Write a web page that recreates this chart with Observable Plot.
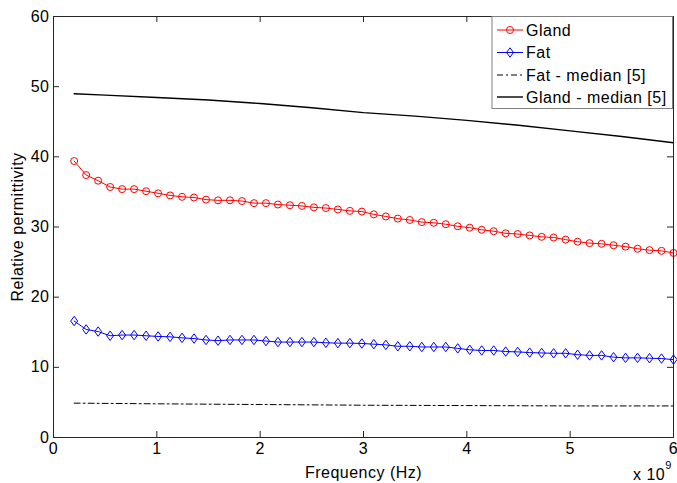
<!DOCTYPE html>
<html><head><meta charset="utf-8">
<script src="https://cdn.jsdelivr.net/npm/d3@7"></script>
<script src="https://cdn.jsdelivr.net/npm/@observablehq/plot@0.6"></script>
<style>body{margin:0;background:#fff} svg{display:block} svg text{letter-spacing:0.5px}</style>
</head><body><div id="chart"></div>
<script>
// Frequency in GHz (axis shows x 10^9 Hz)
const freqGHz = [0.2, 0.316, 0.432, 0.548, 0.664, 0.78, 0.896, 1.012, 1.128, 1.244, 1.36, 1.476, 1.592, 1.708, 1.824, 1.94, 2.056, 2.172, 2.288, 2.404, 2.52, 2.636, 2.752, 2.868, 2.984, 3.1, 3.216, 3.332, 3.448, 3.564, 3.68, 3.796, 3.912, 4.028, 4.144, 4.26, 4.376, 4.492, 4.608, 4.724, 4.84, 4.956, 5.072, 5.188, 5.304, 5.42, 5.536, 5.652, 5.768, 5.884, 6.0];
const glandEps = [39.4, 37.4, 36.6, 35.7, 35.4, 35.4, 35.1, 34.8, 34.5, 34.3, 34.2, 33.9, 33.8, 33.8, 33.7, 33.4, 33.4, 33.2, 33.1, 33.0, 32.8, 32.7, 32.5, 32.3, 32.2, 31.8, 31.5, 31.2, 31.0, 30.7, 30.6, 30.4, 30.1, 29.9, 29.6, 29.4, 29.1, 29.0, 28.8, 28.6, 28.5, 28.2, 27.9, 27.7, 27.6, 27.4, 27.2, 26.9, 26.7, 26.6, 26.3];
const fatEps = [16.6, 15.4, 15.1, 14.5, 14.6, 14.6, 14.5, 14.4, 14.35, 14.2, 14.1, 13.9, 13.8, 13.9, 13.9, 13.9, 13.75, 13.6, 13.6, 13.6, 13.6, 13.5, 13.45, 13.45, 13.4, 13.3, 13.2, 13.0, 13.0, 12.9, 12.9, 12.9, 12.7, 12.5, 12.4, 12.4, 12.25, 12.2, 12.1, 12.05, 12.0, 12.0, 11.8, 11.7, 11.7, 11.45, 11.35, 11.35, 11.3, 11.25, 11.1];
const glandMedFreq = [0.2, 0.5, 1, 1.5, 2, 2.5, 3, 3.5, 4, 4.5, 5, 5.5, 6];
const glandMedEps = [49.0, 48.8, 48.45, 48.1, 47.6, 47.0, 46.3, 45.8, 45.2, 44.5, 43.7, 42.9, 42.0];
const fatMedFreq = [0.2, 1, 2, 3, 4, 5, 6];
const fatMedEps = [4.9, 4.8, 4.7, 4.6, 4.55, 4.5, 4.5];
const xTicks = [0, 1, 2, 3, 4, 5, 6];
const yTicks = [0, 10, 20, 30, 40, 50, 60];
const seriesNames = ["Gland", "Fat", "Fat - median [5]", "Gland - median [5]"];
const xLabel = "Frequency (Hz)";
const yLabel = "Relative permittivity";

const gland = freqGHz.map((f, i) => ({f, v: glandEps[i]}));
const fat = freqGHz.map((f, i) => ({f, v: fatEps[i]}));
const glandMed = glandMedFreq.map((f, i) => ({f, v: glandMedEps[i]}));
const fatMed = fatMedFreq.map((f, i) => ({f, v: fatMedEps[i]}));

const W = 677, H = 483, mL = 53, mR = 4, mT = 16, mB = 46;
const innerW = W - mL - mR, innerH = H - mT - mB;
const font = "'Liberation Sans', Arial, Helvetica, sans-serif";
const axisColor = "#262626";
const diamond = {draw(ctx, size) {
  const r = Math.sqrt(size / Math.PI); const w = r * 0.85, h = r * 1.15;
  ctx.moveTo(0, -h); ctx.lineTo(w, 0); ctx.lineTo(0, h); ctx.lineTo(-w, 0); ctx.closePath();
}};

const chart = Plot.plot({
  width: W, height: H, marginLeft: mL, marginRight: mR, marginTop: mT, marginBottom: mB,
  style: {fontFamily: font, fontSize: "16px", background: "white", color: "black", overflow: "visible"},
  x: {domain: [0, 6]}, y: {domain: [0, 60]},
  marks: [
    Plot.line(fatMed, {x: "f", y: "v", stroke: "black", strokeWidth: 1, strokeDasharray: "6,3,2,3"}),
    Plot.line(glandMed, {x: "f", y: "v", stroke: "black", strokeWidth: 1.4}),
    Plot.line(gland, {x: "f", y: "v", stroke: "#ff0000", strokeWidth: 1}),
    Plot.dot(gland, {x: "f", y: "v", r: 3.5, stroke: "#ff0000", fill: "none", strokeWidth: 1}),
    Plot.line(fat, {x: "f", y: "v", stroke: "#0000ff", strokeWidth: 1}),
    Plot.dot(fat, {x: "f", y: "v", r: 4.1, symbol: diamond, stroke: "#0000ff", fill: "none", strokeWidth: 1}),
    Plot.frame({stroke: axisColor}),
    Plot.tickX(xTicks, {x: d => d, insetTop: innerH - 6, stroke: axisColor}),
    Plot.tickX(xTicks, {x: d => d, insetBottom: innerH - 6, stroke: axisColor}),
    Plot.tickY(yTicks, {y: d => d, insetRight: innerW - 6, stroke: axisColor}),
    Plot.tickY(yTicks, {y: d => d, insetLeft: innerW - 6, stroke: axisColor}),
    Plot.axisX({ticks: xTicks, tickSize: 0, tickPadding: 5, label: null, fontSize: 16, tickFormat: d => String(d)}),
    Plot.axisY({ticks: yTicks, tickSize: 0, tickPadding: 4, label: null, fontSize: 16, tickFormat: d => String(d)}),
    Plot.text([xLabel], {frameAnchor: "bottom", dy: 40, lineAnchor: "bottom", textAnchor: "middle", text: d => d, fontSize: 16}),
    Plot.text([yLabel], {frameAnchor: "left", dx: -36, rotate: -90, lineAnchor: "middle", textAnchor: "middle", text: d => d, fontSize: 16})
  ]
});
document.getElementById("chart").appendChild(chart);

const svg = d3.select(chart);
// exponent label
const ex = svg.append("text").attr("x", 633).attr("y", 480).attr("text-anchor", "start")
  .attr("font-family", font).attr("font-size", 16).attr("fill", "black");
ex.append("tspan").text("x 10");
ex.append("tspan").attr("dy", -11).attr("font-size", 11).text("9");

// legend
const lg = svg.append("g").attr("font-family", font).attr("font-size", 16).attr("text-anchor", "start");
lg.append("rect").attr("x", 492).attr("y", 16.5).attr("width", 180.5).attr("height", 92)
  .attr("fill", "white").attr("stroke", "#808080").attr("stroke-width", 1);
const rows = [
  {name: seriesNames[0], y: 30, color: "#ff0000", marker: "circle", dash: null, w: 1},
  {name: seriesNames[1], y: 52.5, color: "#0000ff", marker: "diamond", dash: null, w: 1},
  {name: seriesNames[2], y: 75, color: "black", marker: null, dash: "6,3,2,3", w: 1},
  {name: seriesNames[3], y: 97, color: "black", marker: null, dash: null, w: 1.4}
];
rows.forEach(r => {
  const l = lg.append("line").attr("x1", 497).attr("x2", 523).attr("y1", r.y).attr("y2", r.y)
    .attr("stroke", r.color).attr("stroke-width", r.w);
  if (r.dash) l.attr("stroke-dasharray", r.dash);
  if (r.marker === "circle") {
    lg.append("circle").attr("cx", 510).attr("cy", r.y).attr("r", 3.5).attr("fill", "none").attr("stroke", r.color);
  } else if (r.marker === "diamond") {
    lg.append("path").attr("d", `M510,${r.y - 4.7}L513.5,${r.y}L510,${r.y + 4.7}L506.5,${r.y}Z`).attr("fill", "none").attr("stroke", r.color);
  }
  lg.append("text").attr("x", 526).attr("y", r.y).attr("dy", "0.36em").attr("fill", "black").text(r.name);
});
</script>
</body></html>
